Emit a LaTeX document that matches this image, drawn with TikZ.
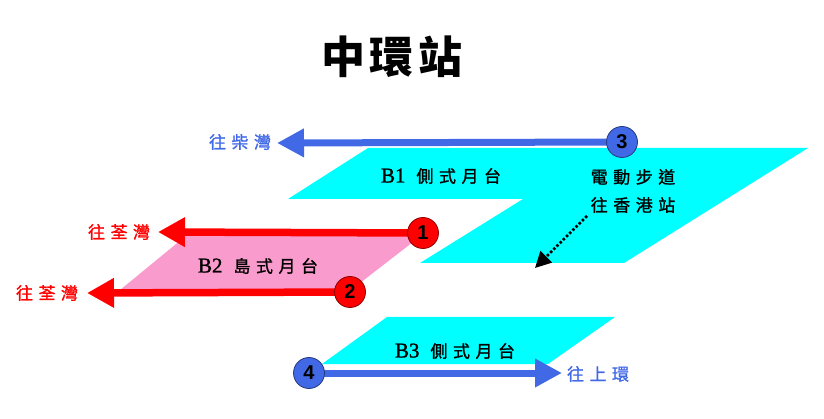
\documentclass[tikz,border=0pt]{standalone}
\usepackage{fontspec}
\usetikzlibrary{arrows.meta}
\newfontfamily\cjk[FakeBold=1.2]{Noto Sans CJK TC}
\newfontfamily\cjkt{Noto Sans CJK TC}
\newfontfamily\latn[FakeBold=1.2]{Liberation Serif}
\newfontfamily\numf{Liberation Sans}
\definecolor{cyanP}{RGB}{0,255,255}
\definecolor{pinkP}{RGB}{250,155,205}
\definecolor{redA}{RGB}{255,0,0}
\definecolor{blueA}{RGB}{65,105,230}
\newcommand{\gp}{\hspace{5.5pt}}
\newcommand{\lat}[1]{{\latn\fontsize{21}{21}\selectfont #1}}
\tikzset{
  lbl/.style={font=\cjk\fontsize{17}{17}\selectfont, inner sep=0pt},
  redarrow/.style={draw=redA, line width=7.5pt, -{Triangle[length=27pt,width=28pt]}},
  bluearrow/.style={draw=blueA, line width=7pt, -{Triangle[length=27pt,width=27pt]}},
  numc/.style={circle, minimum size=31pt, inner sep=0pt, line width=0.8pt, font=\numf\bfseries\fontsize{20}{20}\selectfont},
  redc/.style={numc, fill=redA, draw=red!55!black},
  bluec/.style={numc, fill=blueA, draw=blueA!55!black},
}
\begin{document}
\begin{tikzpicture}[x=1pt,y=-1pt]
\useasboundingbox (0,0) rectangle (824,419);
% platforms
\fill[cyanP] (368,148) -- (808,148) -- (624,263) -- (420,263) -- (523,199) -- (288,199) -- cycle;
\fill[pinkP] (187,235) -- (422,235) -- (351,290) -- (120,290) -- cycle;
\fill[cyanP] (387,317) -- (615,317) -- (548,364) -- (322,364) -- cycle;
% title
\node[font=\cjkt\bfseries\fontsize{44}{44}\selectfont, inner sep=0pt] (title) at (392,57) {中\hspace{5pt}環\hspace{5pt}站};
% circles positions
\coordinate (p1) at (423,233);
\coordinate (p2) at (350,292);
\coordinate (p3) at (622,142);
\coordinate (p4) at (309,373);
\coordinate (t1) at (158,232);
\coordinate (t2) at (87,293);
\coordinate (t3) at (277,143);
\coordinate (t4) at (562,373);
\coordinate (da) at (587,216);
\coordinate (db) at (535,268);
% arrows
\draw[redarrow] (p1) -- (t1);
\draw[redarrow] (p2) -- (t2);
\draw[bluearrow] (p3) -- (t3);
\draw[bluearrow] (p4) -- (t4);
\draw[black, line width=2.5pt, dotted, -{Triangle[length=16pt,width=16pt]}] (da) -- (db);
% circles
\node[redc] (c1) at (p1) {1};
\node[redc] (c2) at (p2) {2};
\node[bluec] (c3) at (p3) {3};
\node[bluec] (c4) at (p4) {4};
% labels
\node[lbl, text=blueA] (l3) at (240,142) {往\gp 柴\gp 灣};
\node[lbl, text=redA] (l1) at (119,232) {往\gp 荃\gp 灣};
\node[lbl, text=redA] (l2) at (47,293) {往\gp 荃\gp 灣};
\node[lbl, text=blueA] (l4) at (598,374) {往\gp 上\gp 環};
\node[lbl] (b1) at (441,176) {\lat{B1}\hspace{11pt}側\gp 式\gp 月\gp 台};
\node[lbl] (w1) at (633,177) {電\gp 動\gp 步\gp 道};
\node[lbl] (w2) at (633,205) {往\gp 香\gp 港\gp 站};
\node[lbl] (b2) at (258,266) {\lat{B2}\hspace{11pt}島\gp 式\gp 月\gp 台};
\node[lbl] (b3) at (455,351) {\lat{B3}\hspace{11pt}側\gp 式\gp 月\gp 台};
\end{tikzpicture}
\end{document}
